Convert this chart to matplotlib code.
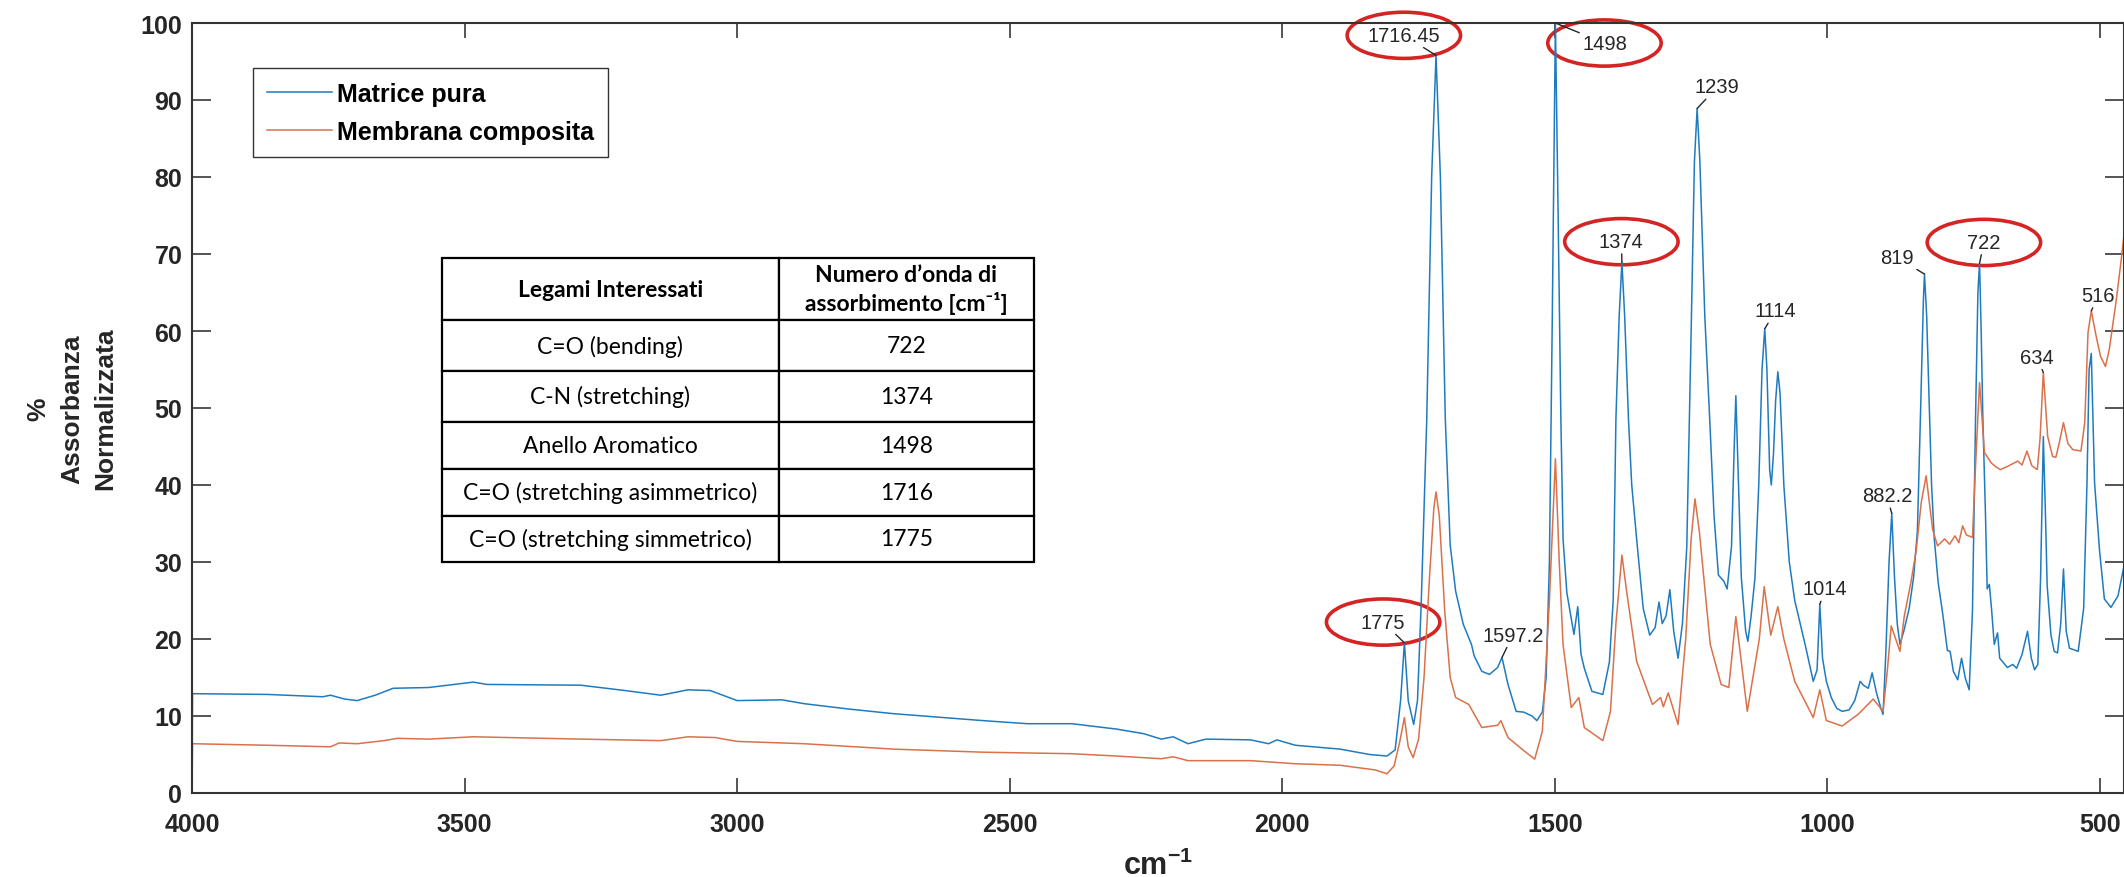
import matplotlib
matplotlib.use("Agg")
import matplotlib.pyplot as plt
from matplotlib.patches import Ellipse

plt.rcParams['font.family'] = ['Liberation Sans', 'DejaVu Sans']
plt.rcParams['mathtext.fontset'] = 'custom'
plt.rcParams['mathtext.bf'] = 'Liberation Sans:bold'
plt.rcParams['mathtext.rm'] = 'Liberation Sans'

# (wavenumber cm-1, % absorbance)
matrice_pura = [
    (4000, 0), (3999, 12.9), (3861, 12.8), (3760, 12.5), (3746, 12.7), (3720, 12.2),
    (3697, 12.0), (3664, 12.7), (3631, 13.6), (3566, 13.7), (3484, 14.4), (3459, 14.1),
    (3287, 14.0), (3205, 13.3), (3140, 12.7), (3090, 13.4), (3049, 13.3), (3000, 12.0),
    (2918, 12.1), (2877, 11.6), (2795, 10.9), (2713, 10.3), (2631, 9.85), (2549, 9.4),
    (2468, 9.0), (2386, 9.0), (2304, 8.3), (2254, 7.7), (2222, 7.0), (2200, 7.3),
    (2173, 6.4), (2140, 7.0), (2058, 6.9), (2025, 6.4), (2010, 6.9), (1976, 6.2),
    (1894, 5.7), (1840, 5.0), (1808, 4.8), (1793, 5.6), (1783, 12), (1776, 19.5),
    (1769, 12), (1759, 8.9), (1752, 12), (1745, 25), (1735, 48.6), (1726, 80),
    (1718, 95.8), (1710, 80), (1701, 48.6), (1692, 32.2), (1682, 26.2), (1668, 21.9),
    (1653, 19.3), (1648, 17.8), (1634, 15.8), (1620, 15.4), (1605, 16.3), (1597, 17.6),
    (1586, 14.1), (1571, 10.6), (1557, 10.5), (1542, 10.0), (1533, 9.4), (1523, 10.5),
    (1516, 15), (1510, 30), (1505, 60), (1499, 100), (1494, 75), (1489, 48.6),
    (1485, 33), (1478, 26), (1470, 22.7), (1465, 20.6), (1458, 24.2), (1452, 18),
    (1446, 16.2), (1432, 13.2), (1412, 12.8), (1400, 17), (1393, 25), (1388, 48.6),
    (1382, 62), (1377, 68.9), (1372, 62), (1365, 48.6), (1359, 40), (1350, 33),
    (1338, 24), (1326, 20.5), (1316, 21.5), (1309, 24.8), (1303, 22), (1296, 23),
    (1289, 26.4), (1282, 21), (1274, 17.5), (1266, 22), (1258, 32), (1250, 60),
    (1244, 82), (1239, 88.9), (1234, 82), (1225, 62), (1216, 48.6), (1208, 36),
    (1200, 28.3), (1190, 27.5), (1184, 26.5), (1176, 32), (1171, 45), (1168, 51.6),
    (1164, 42), (1158, 28), (1150, 21), (1146, 19.7), (1140, 23), (1133, 27.9),
    (1126, 40), (1120, 55), (1115, 60.3), (1111, 55), (1106, 42), (1103, 40),
    (1099, 44), (1095, 51), (1091, 54.7), (1087, 52), (1080, 40), (1070, 30),
    (1060, 25), (1041, 19.3), (1026, 14.5), (1019, 16), (1014, 24.5), (1009, 17.5),
    (1002, 14.5), (993, 12.4), (983, 11), (973, 10.6), (960, 10.8), (950, 12),
    (940, 14.5), (934, 14), (925, 13.6), (918, 15.6), (910, 13), (902, 11),
    (898, 10.2), (893, 18), (887, 30), (882, 36.3), (877, 28), (872, 22),
    (867, 19.3), (860, 21), (850, 24), (842, 28), (835, 34), (829, 50),
    (824, 64), (822, 67.4), (818, 62), (813, 50), (809, 40), (804, 33),
    (797, 27.4), (788, 23), (780, 18.5), (775, 18.4), (769, 15.8), (761, 14.7),
    (754, 17.5), (747, 14.9), (740, 13.4), (734, 23.6), (728, 50), (724, 65),
    (721, 68.8), (718, 60), (715, 48.9), (710, 35.9), (707, 26.5), (703, 27.1),
    (699, 23.9), (694, 19.3), (688, 20.8), (684, 17.5), (670, 16.3), (660, 16.7),
    (653, 16.2), (643, 18), (633, 21), (626, 17.5), (620, 16), (614, 16.7),
    (609, 28), (604, 46.3), (600, 36), (597, 27), (590, 20.5), (584, 18.4),
    (578, 18.2), (572, 22), (567, 29.1), (562, 21), (556, 18.8), (540, 18.4),
    (530, 24), (524, 40), (520, 55), (516, 57.1), (510, 40.3), (501, 31.6),
    (492, 25.2), (480, 24.1), (467, 25.6), (456, 29.5),
]

membrana_composita = [
    (4000, 0), (3999, 6.4), (3861, 6.2), (3746, 6.0), (3730, 6.5), (3697, 6.4),
    (3648, 6.8), (3623, 7.1), (3566, 7.0), (3484, 7.3), (3287, 7.0), (3140, 6.8),
    (3090, 7.3), (3040, 7.2), (3000, 6.7), (2877, 6.4), (2713, 5.7), (2549, 5.3),
    (2386, 5.1), (2304, 4.8), (2222, 4.45), (2200, 4.7), (2173, 4.2), (2058, 4.2),
    (1976, 3.8), (1894, 3.6), (1830, 3.0), (1808, 2.5), (1795, 3.5), (1785, 6.5),
    (1776, 9.8), (1769, 6.0), (1760, 4.6), (1750, 7), (1740, 15), (1730, 28),
    (1722, 37), (1718, 39.1), (1712, 36), (1702, 23.6), (1692, 15), (1682, 12.4),
    (1658, 11.5), (1634, 8.5), (1605, 8.8), (1599, 9.4), (1586, 7.2), (1557, 5.5),
    (1537, 4.4), (1523, 8), (1510, 25), (1499, 43.4), (1492, 30), (1485, 19.3),
    (1470, 11.1), (1456, 12.4), (1446, 8.5), (1412, 6.8), (1398, 10.6), (1388, 22),
    (1377, 30.9), (1368, 26), (1350, 17.1), (1321, 11.5), (1306, 12.4), (1301, 11.2),
    (1292, 13), (1274, 8.9), (1260, 20), (1250, 33), (1243, 38.2), (1235, 34),
    (1215, 19.3), (1195, 14.1), (1181, 13.7), (1168, 22.9), (1147, 10.6), (1125, 20),
    (1116, 26.8), (1104, 20.5), (1091, 24.2), (1080, 20), (1060, 14.5), (1026, 9.8),
    (1014, 13.4), (1002, 9.4), (973, 8.7), (944, 10.2), (916, 12.2), (898, 10.6),
    (890, 16), (883, 21.7), (867, 18.4), (859, 23), (847, 27.3), (837, 31.6),
    (828, 37.7), (819, 41.2), (807, 34.2), (798, 32.1), (785, 33), (776, 32.3),
    (766, 33.4), (759, 32.5), (752, 34.7), (745, 33.5), (734, 33.2), (728, 43),
    (721, 53.3), (712, 44.2), (708, 43.8), (700, 42.9), (690, 42.3), (683, 42.0),
    (670, 42.4), (651, 43.1), (643, 42.6), (634, 44.4), (625, 42.5), (615, 42.0),
    (610, 46), (604, 54.6), (596, 46.3), (587, 43.7), (581, 43.6), (575, 45.4),
    (567, 48.1), (559, 45.4), (550, 44.6), (535, 44.4), (528, 48.1), (522, 59.8),
    (516, 62.6), (507, 59.3), (499, 56.7), (490, 55.4), (483, 57.6), (470, 64.1),
    (461, 69.3), (456, 72.5),
]

# datatips: text, peak position, label position
peak_labels = ['1716.45', '1498', '1239', '1374', '1114', '819', '722',
               '516', '634', '1775', '1597.2', '1014', '882.2']
peak_x = [1718, 1499, 1239, 1377, 1115, 822, 721, 516, 604, 1776, 1597, 1014, 882]
peak_y = [95.8, 100, 88.9, 68.9, 60.3, 67.4, 68.8, 62.6, 54.6, 19.5, 17.6, 24.5, 36.3]
label_x = [1777, 1409, 1202, 1378, 1095, 872, 713, 503, 615, 1815, 1577, 1004, 891]
label_y = [98.4, 97.4, 91.7, 71.6, 62.6, 69.5, 71.5, 64.6, 56.6, 22.2, 20.5, 26.5, 38.6]
circled = ['1716.45', '1498', '1374', '722', '1775']

tab_header = ['Legami Interessati', 'Numero d\u2019onda di\nassorbimento [cm\u207b\u00b9]']
tab_rows = [
    ['C=O (bending)', '722'],
    ['C-N (stretching)', '1374'],
    ['Anello Aromatico', '1498'],
    ['C=O (stretching asimmetrico)', '1716'],
    ['C=O (stretching simmetrico)', '1775'],
]

blue = '#1f7bbf'
orange = '#d9714a'
dark = '#262626'

fig = plt.figure(figsize=(21.24, 8.78), dpi=100)
ax = fig.add_axes([192 / 2124, 84 / 878, 1932 / 2124, 770 / 878])

wn, ab = zip(*matrice_pura)
ax.plot(wn, ab, color=blue, lw=1.1, label='Matrice pura')
wn, ab = zip(*membrana_composita)
ax.plot(wn, ab, color=orange, lw=1.1, label='Membrana composita')

ax.set_xlim(4000, 456)
ax.set_ylim(0, 100)
ax.set_xticks(range(500, 4001, 500))
ax.set_yticks(range(0, 101, 10))
ax.tick_params(axis='x', direction='in', top=True, length=11, width=1.1,
               pad=14, labelsize=18, colors=dark)
ax.tick_params(axis='y', direction='in', right=True, length=13.5, width=1.1,
               pad=7, labelsize=18, colors=dark)
for lab in ax.get_xticklabels() + ax.get_yticklabels():
    lab.set_fontweight('bold')
for sp in ax.spines.values():
    sp.set_color('#333333')
    sp.set_linewidth(1.5)

ax.text(-0.0621, 0.5, '%\nAssorbanza\nNormalizzata', transform=ax.transAxes,
        rotation=90, ha='center', va='center', multialignment='center',
        fontsize=19, fontweight='bold', linespacing=1.5, color=dark)
ax.text(0.5, -0.105, r'$\mathbf{cm^{-1}}$', transform=ax.transAxes,
        ha='center', va='baseline', fontsize=22, color=dark)

leg = ax.legend(loc='upper left', bbox_to_anchor=(0.0316, 0.9415), borderaxespad=0,
                prop={'weight': 'bold', 'size': 18}, handlelength=2.6,
                handletextpad=0.2, borderpad=0.55, labelspacing=0.55,
                fancybox=False, framealpha=1, edgecolor='#333333')
leg.get_frame().set_linewidth(1.0)

for lab, px, py, tx, ty in zip(peak_labels, peak_x, peak_y, label_x, label_y):
    ax.annotate(lab, xy=(px, py), xytext=(tx, ty), ha='center', va='center',
                fontsize=14.5, color=dark, annotation_clip=False,
                arrowprops=dict(arrowstyle='-', color=dark, lw=1.0,
                                shrinkA=0, shrinkB=0))
    if lab in circled:
        ax.add_patch(Ellipse((tx, ty), width=208, height=6.0, fill=False,
                             edgecolor='#d42424', lw=2.6, clip_on=False))

tab = ax.table(cellText=tab_rows, colLabels=tab_header, cellLoc='center',
               colWidths=[0.569, 0.431], bbox=[0.1294, 0.300, 0.3064, 0.395])
tab.auto_set_font_size(False)
tab.set_fontsize(16.5)
row_h = [8.1, 6.6, 6.6, 6.1, 6.1, 6.0]
for (r, c), cell in tab.get_celld().items():
    cell.set_height(row_h[r])
    cell.set_linewidth(1.6)
    cell.set_edgecolor('black')
    t = cell.get_text()
    t.set_fontfamily(['Lato', 'DejaVu Sans'])
    t.set_color('black')
    if r == 0:
        t.set_fontweight('bold')
        t.set_linespacing(1.3)

fig.savefig('out.png', dpi=100, facecolor='white')
